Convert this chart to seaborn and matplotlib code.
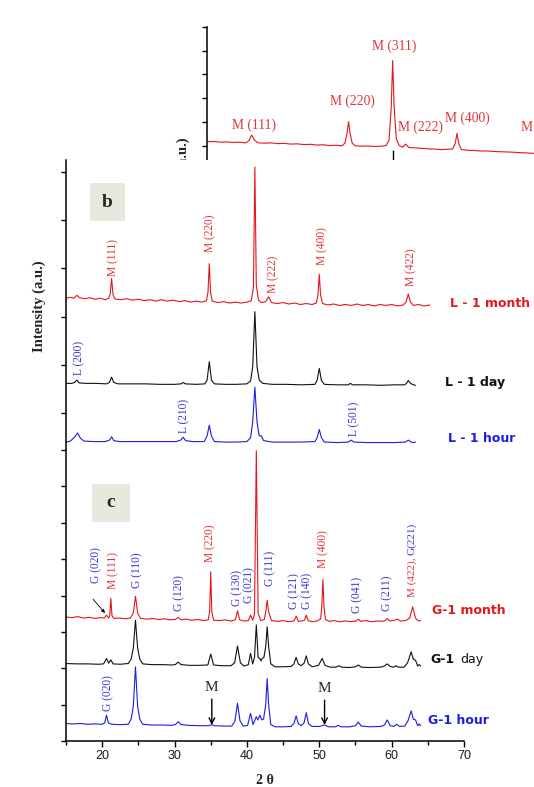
import numpy as np
import pandas as pd
import matplotlib
matplotlib.use("Agg")
import matplotlib.pyplot as plt
from matplotlib.patches import Rectangle
import seaborn as sns

sns.set_style("white")
plt.rcParams["font.family"] = ["DejaVu Sans"]

# ---- data: (2 theta, intensity offset) ----
# panel a (top, cropped) : magnetite
a_month = [(15.5, 0.18), (16.4, 0.19), (17.3, 0.16), (18.2, 0.17), (19.1, 0.15), (20.0, 0.16),
           (20.8, 0.13), (21.2, 0.22), (21.6, 0.46), (22.0, 0.24), (22.5, 0.13), (23.4, 0.12),
           (24.3, 0.13), (25.2, 0.10), (26.1, 0.11), (27.0, 0.08), (27.9, 0.09), (28.8, 0.06),
           (29.7, 0.07), (30.6, 0.04), (31.5, 0.05), (32.4, 0.02), (33.3, 0.03), (34.1, 0.01),
           (34.5, 0.12), (34.8, 0.55), (35.0, 1.02), (35.2, 0.55), (35.5, 0.12), (35.9, 0.01),
           (36.8, -0.01), (37.7, 0.0), (38.6, -0.02), (39.5, -0.01), (40.2, 0.02), (40.6, 0.25),
           (40.9, 1.60), (41.1, 3.58), (41.3, 1.65), (41.6, 0.30), (42.0, 0.02), (42.5, -0.05),
           (42.9, 0.08), (43.3, -0.06), (44.2, -0.08), (45.1, -0.10), (46.0, -0.12), (46.9, -0.13),
           (47.8, -0.15), (48.7, -0.14), (49.4, -0.12), (49.75, 0.10), (50.0, 0.53), (50.25, 0.10),
           (50.6, -0.15), (51.5, -0.18), (52.4, -0.19), (53.3, -0.21), (54.2, -0.21), (55.1, -0.23),
           (56.0, -0.24), (56.9, -0.25), (57.8, -0.26), (58.7, -0.28), (59.6, -0.29), (60.6, -0.31)]

# panel b : L samples
b_month = [(15.0, 2.38), (15.6, 2.40), (16.1, 2.38), (16.5, 2.44), (16.9, 2.39), (17.6, 2.37),
           (18.3, 2.39), (19.0, 2.36), (19.7, 2.38), (20.4, 2.35), (20.9, 2.38), (21.1, 2.46),
           (21.3, 2.79), (21.5, 2.45), (21.8, 2.36), (22.6, 2.35), (23.4, 2.37), (24.2, 2.34),
           (25.0, 2.36), (25.8, 2.33), (26.6, 2.35), (27.4, 2.32), (28.2, 2.35), (29.0, 2.32),
           (29.8, 2.34), (30.6, 2.31), (31.4, 2.33), (32.2, 2.30), (33.0, 2.32), (33.8, 2.30),
           (34.4, 2.33), (34.62, 2.50), (34.8, 3.10), (34.98, 2.50), (35.2, 2.32), (36.0, 2.29),
           (36.8, 2.31), (37.6, 2.28), (38.4, 2.30), (39.2, 2.28), (40.0, 2.30), (40.6, 2.33),
           (40.9, 2.60), (41.1, 5.11), (41.3, 2.65), (41.6, 2.34), (42.0, 2.29), (42.6, 2.31),
           (43.0, 2.41), (43.4, 2.29), (44.2, 2.27), (45.0, 2.29), (45.8, 2.26), (46.6, 2.28),
           (47.4, 2.25), (48.2, 2.27), (49.0, 2.25), (49.6, 2.28), (49.82, 2.45), (50.0, 2.88),
           (50.18, 2.45), (50.45, 2.27), (51.2, 2.24), (52.0, 2.26), (52.8, 2.23), (53.6, 2.25),
           (54.4, 2.23), (55.2, 2.26), (56.0, 2.23), (56.8, 2.25), (57.6, 2.22), (58.4, 2.25),
           (59.2, 2.23), (60.0, 2.25), (60.8, 2.22), (61.6, 2.24), (62.0, 2.30), (62.3, 2.47),
           (62.6, 2.30), (63.0, 2.23), (63.7, 2.25), (64.5, 2.22), (65.3, 2.24)]

b_day = [(15.0, 0.61), (15.8, 0.61), (16.2, 0.63), (16.5, 0.68), (16.8, 0.62), (17.8, 0.61),
         (19.2, 0.61), (20.6, 0.60), (21.0, 0.63), (21.3, 0.74), (21.6, 0.63), (22.2, 0.60),
         (24.0, 0.60), (26.0, 0.60), (28.0, 0.59), (30.0, 0.59), (30.9, 0.60), (31.2, 0.63),
         (31.5, 0.60), (33.0, 0.59), (34.2, 0.60), (34.5, 0.68), (34.8, 1.06), (35.1, 0.68),
         (35.5, 0.60), (37.0, 0.59), (38.5, 0.59), (40.0, 0.60), (40.5, 0.66), (40.8, 0.95),
         (41.1, 2.10), (41.4, 0.95), (41.7, 0.68), (42.2, 0.61), (43.5, 0.59), (45.5, 0.59),
         (47.5, 0.58), (49.4, 0.59), (49.7, 0.67), (50.0, 0.92), (50.3, 0.67), (50.7, 0.59),
         (52.5, 0.58), (54.0, 0.58), (54.3, 0.61), (54.6, 0.58), (56.5, 0.58), (58.5, 0.57),
         (60.5, 0.58), (61.8, 0.58), (62.05, 0.61), (62.3, 0.67), (62.6, 0.61), (63.0, 0.58),
         (63.3, 0.57)]

b_hour = [(15.0, -0.61), (15.6, -0.59), (16.1, -0.52), (16.6, -0.42), (17.0, -0.53), (17.5, -0.59),
          (18.8, -0.60), (20.4, -0.60), (21.0, -0.57), (21.3, -0.50), (21.6, -0.58), (22.4, -0.60),
          (24.5, -0.60), (26.5, -0.60), (28.5, -0.60), (30.2, -0.60), (30.85, -0.57), (31.2, -0.51),
          (31.55, -0.58), (32.5, -0.60), (34.1, -0.60), (34.5, -0.48), (34.8, -0.26), (35.1, -0.48),
          (35.5, -0.60), (37.0, -0.61), (38.6, -0.61), (40.0, -0.60), (40.5, -0.52), (40.8, -0.20),
          (41.1, 0.53), (41.4, -0.20), (41.7, -0.48), (42.0, -0.48), (42.3, -0.58), (43.5, -0.61),
          (45.5, -0.61), (47.5, -0.61), (49.4, -0.60), (49.7, -0.52), (50.0, -0.35), (50.3, -0.52),
          (50.7, -0.61), (52.5, -0.62), (54.0, -0.61), (54.4, -0.57), (54.8, -0.61), (56.5, -0.62),
          (58.5, -0.62), (60.5, -0.62), (61.9, -0.61), (62.3, -0.57), (62.7, -0.61), (63.0, -0.62),
          (63.3, -0.61)]

# panel c : G samples
c_month = [(15.0, 3.41), (15.8, 3.39), (16.6, 3.42), (17.4, 3.38), (18.2, 3.40), (19.0, 3.37),
           (19.8, 3.39), (20.3, 3.38), (20.6, 3.46), (20.9, 3.38), (21.05, 3.45), (21.2, 3.92),
           (21.35, 3.45), (21.6, 3.37), (22.4, 3.38), (23.2, 3.36), (23.9, 3.38), (24.3, 3.52),
           (24.6, 3.98), (24.9, 3.52), (25.3, 3.37), (26.2, 3.35), (27.0, 3.37), (27.8, 3.34),
           (28.6, 3.36), (29.4, 3.33), (30.1, 3.34), (30.5, 3.40), (30.9, 3.33), (31.6, 3.35),
           (32.4, 3.32), (33.2, 3.34), (34.0, 3.31), (34.65, 3.33), (34.85, 3.55), (35.0, 4.65),
           (35.15, 3.55), (35.4, 3.32), (36.2, 3.31), (37.0, 3.33), (37.8, 3.30), (38.4, 3.33),
           (38.7, 3.58), (39.0, 3.33), (39.6, 3.30), (40.2, 3.31), (40.5, 3.46), (40.8, 3.32),
           (41.05, 3.50), (41.3, 7.98), (41.55, 3.52), (41.9, 3.31), (42.4, 3.34), (42.6, 3.55),
           (42.8, 3.87), (43.0, 3.55), (43.4, 3.31), (44.2, 3.29), (45.0, 3.31), (45.8, 3.28),
           (46.5, 3.30), (46.8, 3.43), (47.1, 3.29), (47.6, 3.30), (47.95, 3.32), (48.2, 3.46),
           (48.45, 3.31), (49.0, 3.28), (49.7, 3.30), (50.2, 3.36), (50.35, 3.70), (50.5, 4.44),
           (50.65, 3.70), (50.85, 3.34), (51.4, 3.29), (52.0, 3.31), (52.8, 3.28), (53.6, 3.30),
           (54.4, 3.28), (55.1, 3.30), (55.4, 3.35), (55.7, 3.29), (56.4, 3.31), (57.2, 3.28),
           (58.0, 3.30), (58.7, 3.29), (59.1, 3.31), (59.4, 3.37), (59.7, 3.30), (60.4, 3.32),
           (60.8, 3.35), (61.2, 3.30), (61.9, 3.31), (62.5, 3.38), (62.9, 3.69), (63.3, 3.38),
           (63.7, 3.30), (64.0, 3.31)]

c_day = [(15.0, 2.13), (16.5, 2.12), (18.0, 2.12), (19.5, 2.11), (20.2, 2.12), (20.6, 2.27),
         (20.9, 2.14), (21.2, 2.23), (21.5, 2.12), (22.5, 2.11), (23.6, 2.13), (24.0, 2.25),
         (24.3, 2.55), (24.6, 3.32), (24.9, 2.55), (25.2, 2.25), (25.6, 2.12), (26.8, 2.10),
         (28.2, 2.10), (29.6, 2.09), (30.1, 2.10), (30.5, 2.17), (30.9, 2.10), (32.0, 2.08),
         (33.5, 2.08), (34.6, 2.09), (35.0, 2.39), (35.4, 2.09), (36.5, 2.07), (37.8, 2.07),
         (38.3, 2.15), (38.7, 2.61), (39.1, 2.15), (39.6, 2.06), (40.2, 2.10), (40.5, 2.41),
         (40.8, 2.12), (41.05, 2.30), (41.3, 3.19), (41.55, 2.30), (41.8, 2.26), (41.95, 2.20),
         (42.1, 2.27), (42.35, 2.30), (42.6, 2.60), (42.8, 3.14), (43.0, 2.60), (43.3, 2.12),
         (43.9, 2.04), (45.0, 2.04), (46.1, 2.05), (46.5, 2.12), (46.8, 2.30), (47.1, 2.12),
         (47.5, 2.07), (47.9, 2.14), (48.2, 2.34), (48.5, 2.12), (49.0, 2.04), (49.9, 2.08),
         (50.4, 2.27), (50.8, 2.08), (51.5, 2.03), (52.3, 2.03), (52.7, 2.07), (53.1, 2.03),
         (54.2, 2.02), (55.0, 2.04), (55.4, 2.09), (55.8, 2.03), (57.0, 2.02), (58.5, 2.03),
         (59.0, 2.06), (59.4, 2.12), (59.8, 2.05), (60.3, 2.03), (60.6, 2.07), (60.9, 2.03),
         (61.7, 2.03), (62.2, 2.15), (62.7, 2.45), (63.0, 2.25), (63.3, 2.22), (63.6, 2.06),
         (63.8, 2.10), (64.0, 2.06)]

c_hour = [(15.0, 0.48), (16.0, 0.47), (17.0, 0.48), (18.0, 0.46), (19.0, 0.47), (20.0, 0.46),
          (20.35, 0.50), (20.6, 0.71), (20.85, 0.50), (21.3, 0.46), (22.5, 0.45), (23.6, 0.46),
          (24.0, 0.60), (24.3, 0.95), (24.6, 2.04), (24.9, 0.95), (25.2, 0.60), (25.6, 0.46),
          (26.8, 0.44), (28.2, 0.44), (29.6, 0.43), (30.1, 0.45), (30.5, 0.53), (30.9, 0.45),
          (32.0, 0.43), (33.5, 0.42), (34.7, 0.42), (35.1, 0.45), (35.5, 0.42), (36.8, 0.41),
          (37.9, 0.41), (38.35, 0.55), (38.7, 1.04), (39.05, 0.55), (39.5, 0.41), (40.1, 0.43),
          (40.5, 0.76), (40.85, 0.45), (41.05, 0.55), (41.3, 0.67), (41.5, 0.58), (41.8, 0.71),
          (42.05, 0.58), (42.3, 0.60), (42.6, 1.00), (42.8, 1.72), (43.0, 1.00), (43.3, 0.45),
          (43.9, 0.39), (45.0, 0.39), (46.1, 0.40), (46.5, 0.48), (46.8, 0.69), (47.1, 0.48),
          (47.5, 0.42), (47.9, 0.50), (48.2, 0.78), (48.5, 0.48), (49.0, 0.40), (50.0, 0.40),
          (50.7, 0.44), (51.3, 0.39), (52.2, 0.39), (52.6, 0.43), (53.0, 0.39), (54.2, 0.39),
          (55.0, 0.42), (55.4, 0.52), (55.8, 0.41), (57.0, 0.39), (58.5, 0.40), (59.0, 0.44),
          (59.4, 0.58), (59.8, 0.42), (60.3, 0.40), (60.7, 0.46), (61.1, 0.40), (61.8, 0.41),
          (62.25, 0.55), (62.7, 0.83), (63.0, 0.60), (63.3, 0.58), (63.6, 0.42), (63.8, 0.47),
          (64.0, 0.42)]

# peak labels: (text, 2theta, height, colour key)
a_labels = [("M (111)", 21.9, 0.88), ("M (220)", 35.5, 1.86), ("M (311)", 41.3, 4.16),
            ("M (222)", 45.0, 0.77), ("M (400)", 51.4, 1.16)]
b_labels = [("M (111)", 21.5, 3.22, "r"), ("M (220)", 34.9, 3.74, "r"), ("M (222)", 43.6, 2.88, "r"),
            ("M (400)", 50.4, 3.47, "r"), ("M (422)", 62.7, 3.03, "r"), ("L (200)", 16.8, 1.14, "b"),
            ("L (210)", 31.3, -0.07, "b"), ("L (501)", 54.8, -0.13, "b")]
c_labels = [("G (020)", 19.15, 4.84, "b"), ("M (111)", 21.5, 4.70, "r"), ("G (110)", 24.8, 4.70, "b"),
            ("G (120)", 30.6, 4.07, "b"), ("M (220)", 34.9, 5.44, "r"), ("G (130)", 38.65, 4.20, "b"),
            ("G (021)", 40.3, 4.29, "b"), ("G (111)", 43.2, 4.75, "b"), ("G (121)", 46.5, 4.12, "b"),
            ("G (140)", 48.3, 4.12, "b"), ("M (400)", 50.5, 5.27, "r"), ("G (041)", 55.25, 4.01, "b"),
            ("G (211)", 59.4, 4.07, "b"), ("G (020)", 20.8, 1.32, "b")]
x_ticks = [20, 30, 40, 50, 60, 70]
x_minor = [15, 25, 35, 45, 55, 65]

RED, BLACK, BLUE = "#e4161e", "#111111", "#1c1ce4"
TXT = {"r": "#e0343c", "b": "#3838d2"}
SERIF = ["Liberation Serif", "DejaVu Serif"]
SANS = ["Liberation Sans", "DejaVu Sans"]
W, H = 534, 787


def px_box(left, top, right, bottom):
    return [left / W, 1 - bottom / H, (right - left) / W, (bottom - top) / H]


def draw(ax, pts, color):
    df = pd.DataFrame(pts, columns=["two_theta", "intensity"])
    sns.lineplot(data=df, x="two_theta", y="intensity", ax=ax, color=color,
                 linewidth=0.8, estimator=None, sort=False)


def style(ax, n_ticks):
    for s in ["top", "right", "bottom"]:
        ax.spines[s].set_visible(False)
    ax.spines["left"].set_linewidth(1.1)
    ax.spines["left"].set_color("black")
    ax.set_yticks(range(n_ticks))
    ax.set_yticklabels([])
    ax.tick_params(axis="y", direction="out", length=3.8, width=1.0, color="black", left=True)
    ax.set_xlabel("")
    ax.set_ylabel("")


fig = plt.figure(figsize=(5.34, 7.87), dpi=100)
ax_a = fig.add_axes(px_box(207.3, 26.7, 534, 160))
ax_b = fig.add_axes(px_box(66, 160, 464, 450))
ax_c = fig.add_axes(px_box(66, 450, 464, 741))

# ---- panel a ----
draw(ax_a, a_month, RED)
style(ax_a, 6)
ax_a.set_xlim(15.46, 60.65)
ax_a.set_ylim(-0.587, 5.0)
ax_a.set_xticks([41.1])
ax_a.set_xticklabels([])
ax_a.tick_params(axis="x", direction="in", length=7, width=1.0, color="black", bottom=True)
for t, x, y in a_labels:
    ax_a.text(x, y, t, color=TXT["r"], family=SERIF, fontsize=9.8, ha="center", va="center")
ax_a.text(58.81, 0.77, "M", color=TXT["r"], family=SERIF, fontsize=9.8, ha="left", va="center",
          clip_on=True)
ax_a.text(-0.0744, 0.1725, "Intensity (a.u.)", transform=ax_a.transAxes, rotation=90,
          ha="center", va="top", family=SERIF, fontweight="bold", fontsize=10.5, clip_on=False)

# ---- panel b ----
ax_b.set_facecolor("white")
draw(ax_b, b_month, RED)
draw(ax_b, b_day, BLACK)
draw(ax_b, b_hour, BLUE)
style(ax_b, 6)
ax_b.set_xlim(15, 70)
ax_b.set_ylim(-0.775, 5.254)
ax_b.set_xticks([])
for t, x, y, c in b_labels:
    ax_b.text(x, y, t, color=TXT[c], family=SERIF, fontsize=8.3, rotation=90,
              ha="center", va="center")
ax_b.text(68.0, 2.28, "L - 1 month", color=RED, fontweight="bold", fontsize=9, va="center",
          clip_on=False)
ax_b.text(67.4, 0.62, "L - 1 day", color=BLACK, fontweight="bold", fontsize=9, va="center",
          clip_on=False)
ax_b.text(67.8, -0.53, "L - 1 hour", color=BLUE, fontweight="bold", fontsize=9, va="center",
          clip_on=False)
ax_b.add_patch(Rectangle((0.0603, 0.790), 0.088, 0.131, transform=ax_b.transAxes,
                         facecolor="#e8e8df", edgecolor="none"))
ax_b.text(0.104, 0.855, "b", transform=ax_b.transAxes, family=SERIF, fontweight="bold",
          fontsize=14, ha="center", va="center")

# ---- panel c ----
draw(ax_c, c_month, RED)
draw(ax_c, c_day, BLACK)
draw(ax_c, c_hour, BLUE)
style(ax_c, 9)
ax_c.spines["bottom"].set_visible(True)
ax_c.spines["bottom"].set_linewidth(1.1)
ax_c.spines["bottom"].set_color("black")
ax_c.set_xlim(15, 70)
ax_c.set_ylim(0, 8.0)
ax_c.set_xticks(x_ticks)
ax_c.set_xticks(x_minor, minor=True)
ax_c.set_xticklabels([str(v) for v in x_ticks], family=SANS, fontsize=9, color="#1a1a1a")
ax_c.tick_params(axis="x", which="major", direction="out", length=4.3, width=1.0,
                 color="black", bottom=True, pad=2)
ax_c.tick_params(axis="x", which="minor", direction="out", length=3.0, width=1.0,
                 color="black", bottom=True)
for t, x, y, c in c_labels:
    ax_c.text(x, y, t, color=TXT[c], family=SERIF, fontsize=8.3, rotation=90,
              ha="center", va="center")
ax_c.text(62.8, 3.96, "M (422),", color=TXT["r"], family=SERIF, fontsize=8.1, rotation=90,
          ha="center", va="bottom")
ax_c.text(62.8, 5.12, "G(221)", color=TXT["b"], family=SERIF, fontsize=8.1, rotation=90,
          ha="center", va="bottom")
ax_c.annotate("", xy=(20.39, 3.52), xytext=(18.73, 3.90),
              arrowprops=dict(arrowstyle="-|>", color="black", lw=0.6, mutation_scale=5,
                              shrinkA=0, shrinkB=0))
for xm, ym in [(35.15, 1.46), (50.73, 1.43)]:
    ax_c.annotate("M", xy=(xm, 0.44), xytext=(xm, ym), ha="center", va="center",
                  family=SERIF, fontsize=11,
                  arrowprops=dict(arrowstyle="->", color="black", lw=1.0, mutation_scale=10,
                                  shrinkA=1, shrinkB=0))
ax_c.text(65.58, 3.60, "G-1 month", color=RED, fontweight="bold", fontsize=9, va="center",
          clip_on=False)
ax_c.text(65.35, 2.25, "G-1", color=BLACK, fontweight="bold", fontsize=9, va="center",
          clip_on=False)
ax_c.text(69.55, 2.25, "day", color=BLACK, fontsize=9, va="center", clip_on=False)
ax_c.text(65.0, 0.55, "G-1 hour", color=BLUE, fontweight="bold", fontsize=9, va="center",
          clip_on=False)
ax_c.add_patch(Rectangle((0.0653, 0.753), 0.0955, 0.130, transform=ax_c.transAxes,
                         facecolor="#e8e8df", edgecolor="none"))
ax_c.text(0.113, 0.818, "c", transform=ax_c.transAxes, family=SERIF, fontweight="bold",
          fontsize=14, ha="center", va="center")

fig.text(39 / W, 1 - 306 / H, "Intensity (a.u.)", rotation=90, ha="center", va="center",
         family=SERIF, fontweight="bold", fontsize=10.5)
fig.text(265 / W, 1 - 780.7 / H, "2 θ", ha="center", va="center", family=SERIF,
         fontweight="bold", fontsize=10)

fig.savefig("out.png", dpi=100)
